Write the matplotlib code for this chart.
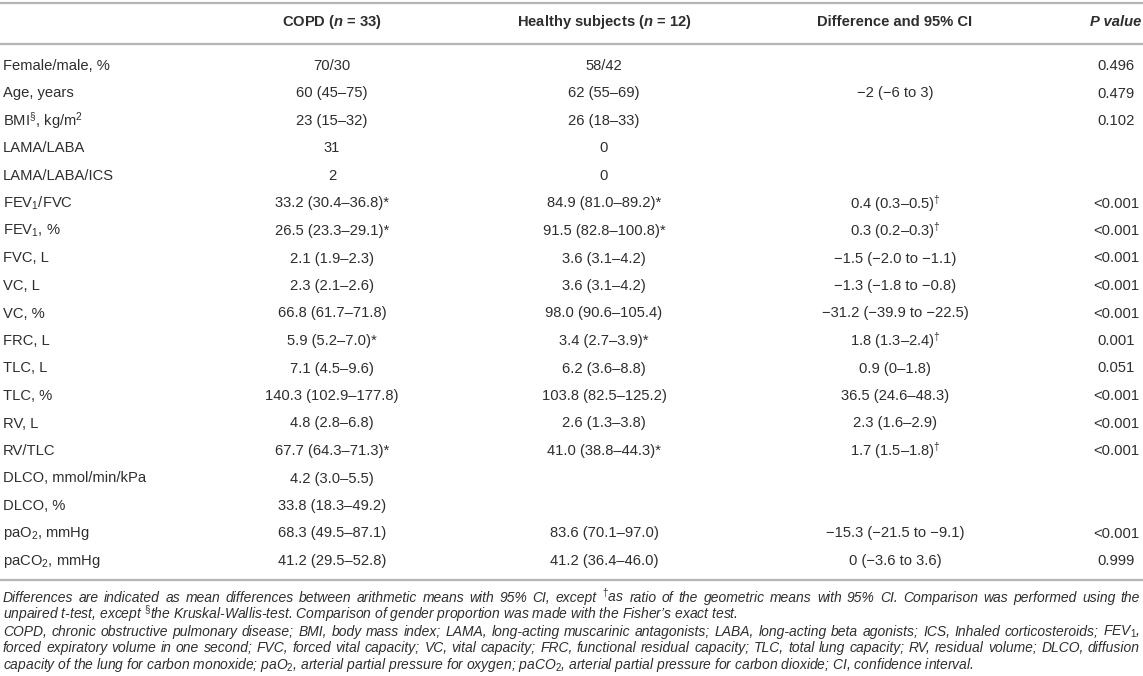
import matplotlib.pyplot as plt

plt.rcParams['font.family'] = ['Liberation Sans', 'DejaVu Sans']
plt.rcParams['mathtext.fontset'] = 'custom'
plt.rcParams['mathtext.rm'] = 'Liberation Sans'
plt.rcParams['mathtext.it'] = 'Liberation Sans:italic'
plt.rcParams['mathtext.bf'] = 'Liberation Sans:bold'
plt.rcParams['mathtext.bfit'] = 'Liberation Sans:bold:italic'

# table content ---------------------------------------------------------------
headers = [r"COPD ($\mathbfit{n}$ = 33)",
           r"Healthy subjects ($\mathbfit{n}$ = 12)",
           "Difference and 95% CI",
           "P value"]

labels = ["Female/male, %", "Age, years", r"BMI$^{§}$, kg/m$^{2}$", "LAMA/LABA",
          "LAMA/LABA/ICS", r"FEV$_{1}$/FVC", r"FEV$_{1}$, %", "FVC, L", "VC, L", "VC, %",
          "FRC, L", "TLC, L", "TLC, %", "RV, L", "RV/TLC", "DLCO, mmol/min/kPa",
          "DLCO, %", r"paO$_{2}$, mmHg", r"paCO$_{2}$, mmHg"]

copd = ["70/30", "60 (45–75)", "23 (15–32)", "31", "2", "33.2 (30.4–36.8)*",
        "26.5 (23.3–29.1)*", "2.1 (1.9–2.3)", "2.3 (2.1–2.6)", "66.8 (61.7–71.8)",
        "5.9 (5.2–7.0)*", "7.1 (4.5–9.6)", "140.3 (102.9–177.8)", "4.8 (2.8–6.8)",
        "67.7 (64.3–71.3)*", "4.2 (3.0–5.5)", "33.8 (18.3–49.2)", "68.3 (49.5–87.1)",
        "41.2 (29.5–52.8)"]

healthy = ["58/42", "62 (55–69)", "26 (18–33)", "0", "0", "84.9 (81.0–89.2)*",
           "91.5 (82.8–100.8)*", "3.6 (3.1–4.2)", "3.6 (3.1–4.2)", "98.0 (90.6–105.4)",
           "3.4 (2.7–3.9)*", "6.2 (3.6–8.8)", "103.8 (82.5–125.2)", "2.6 (1.3–3.8)",
           "41.0 (38.8–44.3)*", "", "", "83.6 (70.1–97.0)", "41.2 (36.4–46.0)"]

diff = ["", "−2 (−6 to 3)", "", "", "", r"0.4 (0.3–0.5)$^{†}$", r"0.3 (0.2–0.3)$^{†}$",
        "−1.5 (−2.0 to −1.1)", "−1.3 (−1.8 to −0.8)", "−31.2 (−39.9 to −22.5)",
        r"1.8 (1.3–2.4)$^{†}$", "0.9 (0–1.8)", "36.5 (24.6–48.3)", "2.3 (1.6–2.9)",
        r"1.7 (1.5–1.8)$^{†}$", "", "", "−15.3 (−21.5 to −9.1)", "0 (−3.6 to 3.6)"]

pvals = ["0.496", "0.479", "0.102", "", "", "<0.001", "<0.001", "<0.001", "<0.001",
         "<0.001", "0.001", "0.051", "<0.001", "<0.001", "<0.001", "", "", "<0.001",
         "0.999"]

# (text, justified?)
notes = [
    (r"Differences are indicated as mean differences between arithmetic means with 95% CI, except $^{†}$as ratio of the geometric means with 95% CI. Comparison was performed using the", True),
    (r"unpaired t-test, except $^{§}$the Kruskal-Wallis-test. Comparison of gender proportion was made with the Fisher’s exact test.", False),
    (r"COPD, chronic obstructive pulmonary disease; BMI, body mass index; LAMA, long-acting muscarinic antagonists; LABA, long-acting beta agonists; ICS, Inhaled corticosteroids; FEV$_{\mathit{1}}$,", True),
    ("forced expiratory volume in one second; FVC, forced vital capacity; VC, vital capacity; FRC, functional residual capacity; TLC, total lung capacity; RV, residual volume; DLCO, diffusion", True),
    (r"capacity of the lung for carbon monoxide; paO$_{\mathit{2}}$, arterial partial pressure for oxygen; paCO$_{\mathit{2}}$, arterial partial pressure for carbon dioxide; CI, confidence interval.", False),
]

# drawing ---------------------------------------------------------------------
W, H = 1143, 676
fig = plt.figure(figsize=(W / 100, H / 100), dpi=100)
ax = fig.add_axes([0, 0, 1, 1])
ax.set_xlim(0, W)
ax.set_ylim(H, 0)
ax.axis('off')

txt = '#2e2e2e'
rule = '#b5b5b5'
fs = 10.6
col_x = [332, 604, 895, 1116]

for y in (3, 44, 580):
    ax.plot([0, W], [y, y], color=rule, lw=1.6, solid_capstyle='butt')

for x, h in zip(col_x[:3], headers[:3]):
    ax.text(x, 22, h, ha='center', va='center', fontsize=fs, fontweight='bold', color=txt)
ax.text(1141, 22, headers[3], ha='right', va='center', fontsize=fs,
        fontweight='bold', fontstyle='italic', color=txt)

y0, step = 66, 27.5
for i, lab in enumerate(labels):
    y = y0 + i * step
    ax.text(3, y, lab, ha='left', va='center', fontsize=fs, color=txt)
    for x, col in zip(col_x, (copd, healthy, diff, pvals)):
        if col[i]:
            ax.text(x, y, col[i], ha='center', va='center', fontsize=fs, color=txt)

# footnotes, justified like the journal layout
renderer = fig.canvas.get_renderer()
left, right = 3, 1140
ny0, nstep = 598, 16.8
for j, (line, justify) in enumerate(notes):
    y = ny0 + j * nstep
    kw = dict(ha='left', va='baseline', fontsize=10.0, fontstyle='italic', color=txt)
    if not justify:
        ax.text(left, y + 4, line, **kw)
        continue
    words = line.split(' ')
    arts = [ax.text(0, y + 4, w, **kw) for w in words]
    widths = [a.get_window_extent(renderer).width for a in arts]
    gap = (right - left - sum(widths)) / (len(words) - 1)
    x = left
    for a, w in zip(arts, widths):
        a.set_x(x)
        x += w + gap

fig.savefig('out.png', dpi=100)
